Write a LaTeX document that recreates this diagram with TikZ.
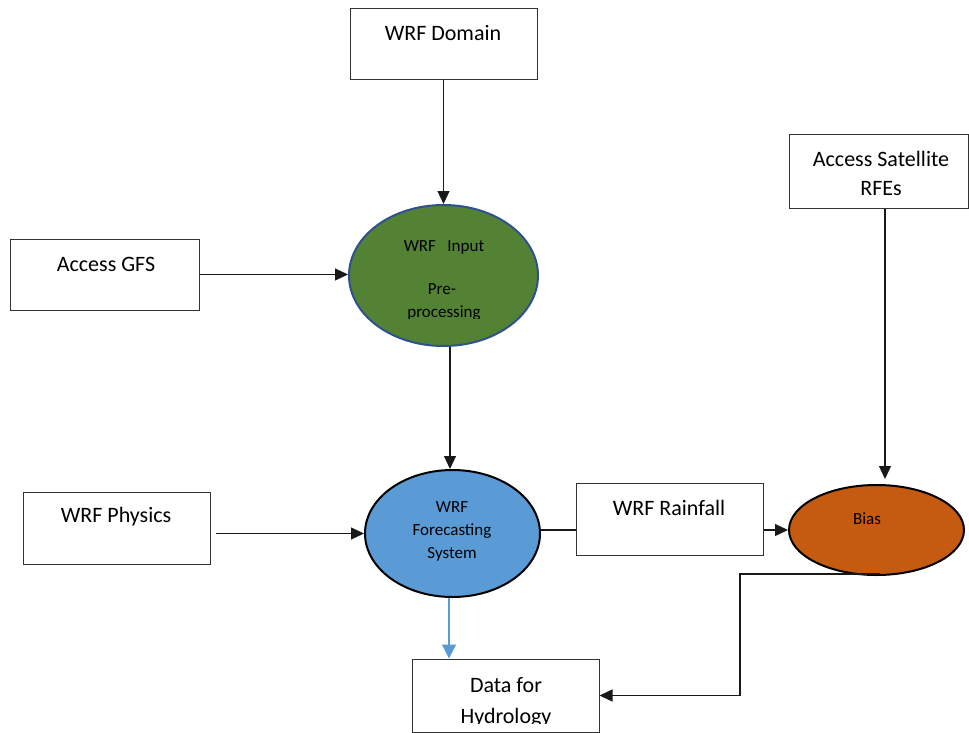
\documentclass[tikz,border=0pt]{standalone}
\usepackage{fontspec}
\setmainfont{Carlito}
\usetikzlibrary{shapes.geometric,arrows.meta}
\definecolor{gfill}{HTML}{548235}
\definecolor{gline}{HTML}{2F528F}
\definecolor{bfill}{HTML}{5B9BD5}
\definecolor{ofill}{HTML}{C55A11}
\begin{document}
\begin{tikzpicture}[x=1pt,y=-1pt,
 box/.style={draw=black!80, line width=1pt, rectangle, inner sep=0pt},
 oval/.style={ellipse, draw=black, line width=2pt, inner sep=0pt},
 big/.style={font=\fontsize{22}{29}\selectfont, align=center, inner sep=0pt},
 small/.style={font=\fontsize{17}{23}\selectfont, align=center, inner sep=0pt},
 arr/.style={draw=black!90, line width=1.2pt, -{Triangle[length=13pt,width=12pt]}},
 bluearr/.style={draw=bfill, line width=1.3pt, -{Triangle[length=14pt,width=14pt]}},
 ]
\useasboundingbox (0,0) rectangle (969,733);
\fill[white] (0,0) rectangle (969,733);

% boxes
\node[box, minimum width=187pt, minimum height=71pt] (dom) at (443.5,44.5) {};
\node[box, minimum width=179pt, minimum height=73pt] (sat) at (878.5,171.5) {};
\node[box, minimum width=189pt, minimum height=71pt] (gfs) at (104.5,274.5) {};
\node[box, minimum width=187pt, minimum height=72pt] (phys) at (116.5,528) {};
\node[box, minimum width=187pt, minimum height=72pt] (rain) at (669.5,519) {};
\node[box, minimum width=187pt, minimum height=73pt] (data) at (505.5,695.5) {};

% ellipses
\node[oval, draw=gline, fill=gfill, minimum width=189pt, minimum height=141pt] (pre) at (443.5,275.5) {};
\node[oval, fill=bfill, minimum width=175pt, minimum height=127pt] (fc) at (452.5,533.5) {};
\node[oval, fill=ofill, minimum width=175pt, minimum height=90pt] (bias) at (876.5,530) {};

% texts
\node[big] (tdom) at (443,33) {WRF Domain};
\node[big] (tsat) at (881,173.5) {Access Satellite\\RFEs};
\node[big] (tgfs) at (106,264) {Access GFS};
\node[big] (tphys) at (116,517) {WRF Physics};
\node[big] (train) at (669,508) {WRF Rainfall};
\node[big, anchor=base] (tdata1) at (506,692) {Data for};
\begin{scope}
\clip (412,700) rectangle (599,723.5);
\node[big, anchor=base] (tdata2) at (506,723) {Hydrology};
\end{scope}
\node[small, anchor=base] (tpre1) at (444,251) {WRF\ \ \ Input};
\node[small, anchor=base] (tpre2) at (442,294) {Pre-};
\begin{scope}
\clip (380,295) rectangle (510,318);
\node[small, anchor=base] (tpre3) at (444,317) {processing};
\end{scope}
\node[small] (tfc) at (452,531) {WRF\\Forecasting\\System};
\node[small] (tbias) at (867,519) {Bias};

% connectors
\coordinate (pfx) at (450,0);
\coordinate (sx) at (885,0);
\coordinate (bx2) at (449,0);
\coordinate (physout) at ([xshift=5pt]phys.east);
\coordinate (bstart) at (880,574);
\coordinate (bend) at (740,574);

\draw[arr] (dom.south) -- (pre.north);
\draw[arr] (gfs.east) -- (gfs.east -| pre.west);
\draw[arr] (pre.south -| pfx) -- (fc.north -| pfx);
\draw[arr] (physout |- fc.west) -- (fc.west);
\draw[draw=black!90, line width=1.2pt] (fc.east |- bias.west) -- (rain.west |- bias.west);
\draw[arr] (rain.east |- bias.west) -- (bias.west);
\draw[arr] (sat.south -| sx) -- ([yshift=5pt]bias.north -| sx);
\draw[arr] (bstart) -- (bend) |- (data.east);
\draw[bluearr] (fc.south -| bx2) -- (data.north -| bx2);
\end{tikzpicture}
\end{document}
